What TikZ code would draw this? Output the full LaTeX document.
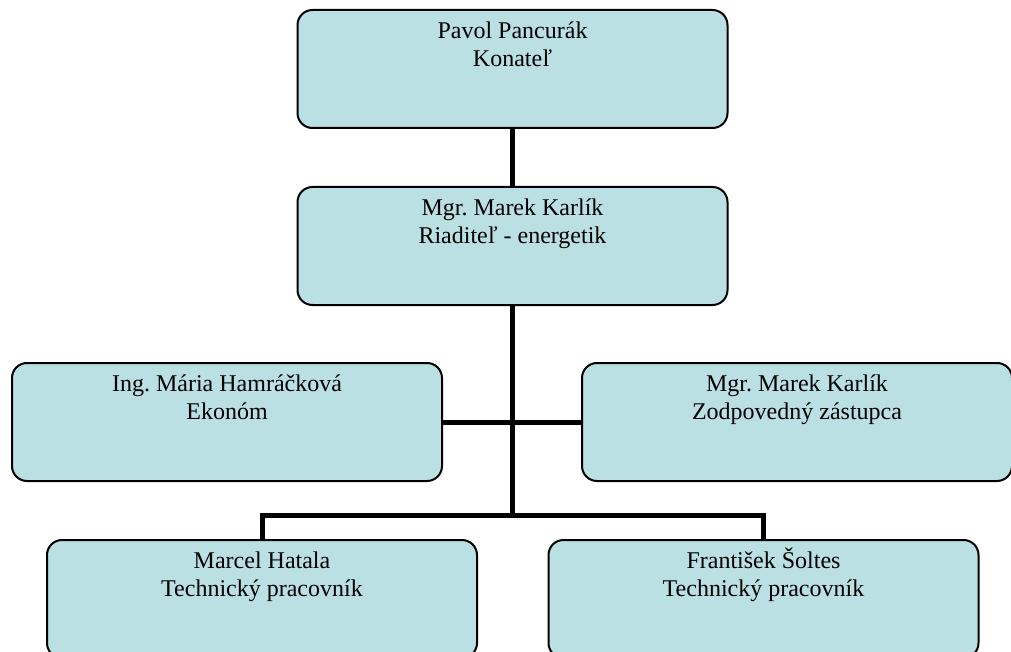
\documentclass[tikz,border=0pt]{standalone}
\usepackage{fontspec}
\setmainfont{Liberation Serif}
\definecolor{boxfill}{RGB}{187,224,227}
\newcommand{\toprow}{\rule{0pt}{11pt}}

\begin{document}
\begin{tikzpicture}[x=0.5pt, y=-0.5pt,
  box/.style = {draw, line width=1pt, rounded corners=7.5pt,
    fill=boxfill, minimum width=215pt, minimum height=59pt, inner sep=0pt},
  who/.style = {anchor=north, align=center,
    font=\fontsize{12}{14}\selectfont},
  link/.style = {line width=2.5pt}]
  \useasboundingbox (0,0) rectangle (1011,652);
  \node[box, label={[who]north:{\toprow Pavol Pancurák\\Konateľ}}] (konatel) at (512.5,69) {};
  \node[box, label={[who]north:{\toprow Mgr.\ Marek Karlík\\Riaditeľ - energetik}}] (riaditel) at (512.5,246) {};
  \node[box, label={[who]north:{\toprow Ing.\ Mária Hamráčková\\Ekonóm}}] (ekonom) at (227,422) {};
  \node[box, label={[who]north:{\toprow Mgr.\ Marek Karlík\\Zodpovedný zástupca}}] (zastupca) at (797,422) {};
  \node[box, label={[who]north:{\toprow Marcel Hatala\\Technický pracovník}}] (hatala) at (262,599) {};
  \node[box, label={[who]north:{\toprow František Šoltes\\Technický pracovník}}] (soltes) at (763.5,599) {};
  \coordinate (fork) at (512.5,515);
  \draw[link] (konatel.south) -- (riaditel.north);
  \draw[link] (riaditel.south) -- (fork);
  \draw[link] (ekonom.east) -- (zastupca.west);
  \draw[link] (hatala.north) |- (fork) -| (soltes.north);
\end{tikzpicture}
\end{document}
